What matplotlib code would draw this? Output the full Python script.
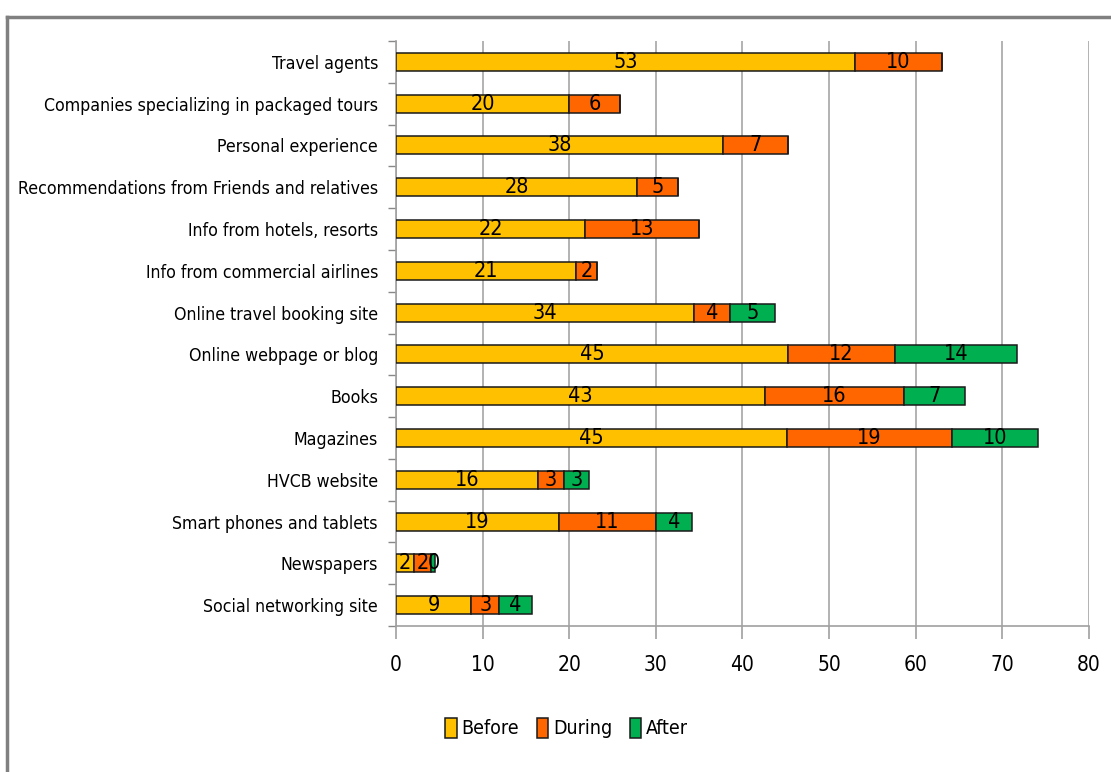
import matplotlib
matplotlib.use("Agg")
import matplotlib.pyplot as plt
from matplotlib import font_manager
from matplotlib.lines import Line2D
from matplotlib.ticker import FixedLocator
import numpy as np

# Information sources, listed top to bottom
SOURCES = [
    "Travel agents",
    "Companies specializing in packaged tours",
    "Personal experience",
    "Recommendations from Friends and relatives",
    "Info from hotels, resorts",
    "Info from commercial airlines",
    "Online travel booking site",
    "Online webpage or blog",
    "Books",
    "Magazines",
    "HVCB website",
    "Smart phones and tablets",
    "Newspapers",
    "Social networking site",
]

BEFORE = [53.0, 20.0, 37.8, 27.8, 21.8, 20.8, 34.4, 45.3, 42.6, 45.1, 16.4, 18.8, 2.1, 8.7]
DURING = [10.0, 5.9, 7.4, 4.8, 13.2, 2.4, 4.2, 12.3, 16.1, 19.1, 3.0, 11.2, 2.0, 3.2]
AFTER = [0.0, 0.0, 0.0, 0.0, 0.0, 0.0, 5.2, 14.1, 7.0, 9.9, 2.9, 4.2, 0.45, 3.8]

SERIES = ["Before", "During", "After"]
COLORS = ["#FFC000", "#FF6600", "#00B050"]
X_TICKS = [0, 10, 20, 30, 40, 50, 60, 70, 80]

# pick a narrow face if one is installed
_names = {f.name for f in font_manager.fontManager.ttflist}
if "Liberation Sans Narrow" in _names:
    plt.rcParams["font.family"] = ["Liberation Sans Narrow", "DejaVu Sans"]
else:
    plt.rcParams["font.family"] = ["DejaVu Sans"]
    plt.rcParams["font.stretch"] = "condensed"

fig = plt.figure(figsize=(11.11, 7.72), dpi=100)
ax = fig.add_axes([0.3564, 0.1891, 0.6238, 0.7578])

y = np.arange(len(SOURCES))
left = np.zeros(len(SOURCES))
for name, vals, color in zip(SERIES, [BEFORE, DURING, AFTER], COLORS):
    vals = np.array(vals)
    bars = ax.barh(y, vals, left=left, height=0.43, color=color,
                   edgecolor="#1a1a1a", linewidth=1.1, label=name, zorder=3)
    labels = ["%.0f" % v if v > 0 else "" for v in vals]
    ax.bar_label(bars, labels=labels, label_type="center", fontsize=15.5,
                 color="black", zorder=4)
    left += vals

ax.set_xlim(0, 80)
ax.set_ylim(len(SOURCES) - 0.5, -0.5)
ax.set_xticks(X_TICKS)
ax.set_yticks(y)
ax.set_yticklabels(SOURCES, fontsize=12.7)
ax.yaxis.set_minor_locator(FixedLocator(np.arange(len(SOURCES) + 1) - 0.5))
ax.tick_params(axis="y", which="major", length=0, pad=13)
ax.tick_params(axis="y", which="minor", length=6, color="#888888", width=1)
ax.tick_params(axis="x", length=9, color="#A0A0A0", width=1.2,
               labelsize=15, pad=12)

ax.grid(axis="x", color="#A6A6A6", linewidth=1.2, zorder=0)
for side in ("top", "right"):
    ax.spines[side].set_visible(False)
for side in ("left", "bottom"):
    ax.spines[side].set_color("#A0A0A0")
    ax.spines[side].set_linewidth(1.2)

fig.legend(loc="center", bbox_to_anchor=(0.51, 0.057), ncol=3, frameon=False,
           fontsize=14, handlelength=0.6, handleheight=1.2, handletextpad=0.25,
           columnspacing=0.9)

# outer chart frame
fig.add_artist(Line2D([7 / 1111, 1], [1 - 17 / 772, 1 - 17 / 772],
                      transform=fig.transFigure, color="#808080", linewidth=2.5))
fig.add_artist(Line2D([7 / 1111, 7 / 1111], [0, 1 - 17 / 772],
                      transform=fig.transFigure, color="#808080", linewidth=2.5))

fig.savefig("out.png", dpi=100)
